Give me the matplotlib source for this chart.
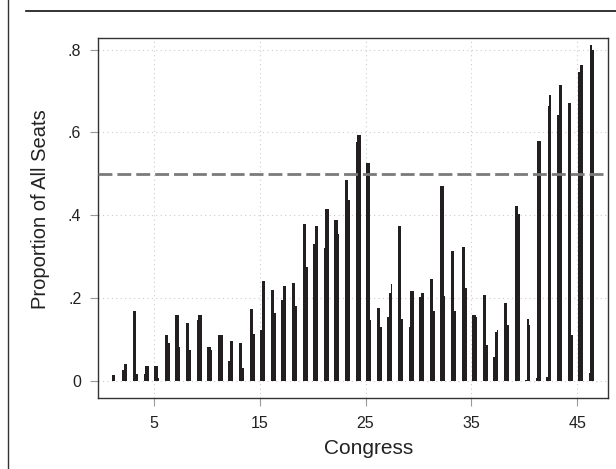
import matplotlib
matplotlib.use("Agg")
import matplotlib.pyplot as plt
from matplotlib.lines import Line2D
import numpy as np

plt.rcParams['font.family'] = ['Liberation Sans', 'DejaVu Sans']

congress = list(range(1, 47))
s1 = [0.015, 0.027, 0.169, 0.016, 0.036, 0.111, 0.159, 0.140, 0.147, 0.082,
      0.111, 0.049, 0.092, 0.174, 0.123, 0.220, 0.196, 0.237, 0.379, 0.331,
      0.321, 0.389, 0.486, 0.577, 0.527, 0.176, 0.155, 0.374, 0.130, 0.203,
      0.246, 0.471, 0.314, 0.324, 0.160, 0.208, 0.058, 0.188, 0.423, 0.003,
      0.008, 0.010, 0.643, 0.671, 0.746, 0.019]
s2 = [0.015, 0.041, 0.169, 0.036, 0.036, 0.111, 0.159, 0.140, 0.159, 0.082,
      0.111, 0.097, 0.092, 0.174, 0.241, 0.220, 0.229, 0.237, 0.379, 0.374,
      0.415, 0.389, 0.486, 0.594, 0.527, 0.176, 0.213, 0.374, 0.217, 0.213,
      0.246, 0.471, 0.314, 0.324, 0.160, 0.208, 0.118, 0.188, 0.423, 0.150,
      0.580, 0.664, 0.715, 0.671, 0.763, 0.812]
s3 = [0.000, 0.041, 0.016, 0.036, 0.008, 0.092, 0.082, 0.075, 0.159, 0.075,
      0.111, 0.097, 0.031, 0.113, 0.241, 0.164, 0.229, 0.181, 0.275, 0.374,
      0.415, 0.355, 0.437, 0.594, 0.147, 0.130, 0.234, 0.150, 0.217, 0.213,
      0.169, 0.206, 0.169, 0.225, 0.155, 0.087, 0.123, 0.135, 0.403, 0.135,
      0.580, 0.691, 0.715, 0.111, 0.763, 0.800]
xticks = [5, 15, 25, 35, 45]
yticks = [0, 0.2, 0.4, 0.6, 0.8]
ytick_labels = ["0", ".2", ".4", ".6", ".8"]
majority = 0.5

W, H = 616, 469
fig = plt.figure(figsize=(W / 100, H / 100), dpi=100)
ax = fig.add_axes([98 / W, 1 - 398 / H, 510 / W, 360 / H])

x = np.array(congress, dtype=float)
bar_color = '#231f20'
for off, s in zip([0.15, 0.30, 0.45], [s1, s2, s3]):
    ax.bar(x + off, s, width=0.18, color=bar_color, linewidth=0, zorder=3)

ax.axhline(majority, color='#7a7a7a', lw=2.0, dashes=(5, 1.8), zorder=4)

ax.set_xlim(-0.24, 47.88)
ax.set_ylim(-0.041, 0.828)
ax.set_xticks(xticks)
ax.set_yticks(yticks)
ax.set_yticklabels(ytick_labels)

ax.grid(True, color='#cccccc', linestyle=(0, (1, 3)), linewidth=0.8, zorder=0)
ax.tick_params(axis='both', direction='out', length=6, width=0.8, color='#999999',
               labelsize=11.5, labelcolor='#222222')
ax.tick_params(axis='x', pad=7)
ax.tick_params(axis='y', pad=6)
for sp in ax.spines.values():
    sp.set_color('#333333')
    sp.set_linewidth(1.0)

ax.set_xlabel('Congress', fontsize=15, color='#222222')
ax.xaxis.set_label_coords(0.53, -0.113)
ax.set_ylabel('Proportion of All Seats', fontsize=14.5, color='#222222')
ax.yaxis.set_label_coords(-0.094, 0.525)

# page frame lines
fig.add_artist(Line2D([26 / W, 1.0], [1 - 11 / H, 1 - 11 / H], color='#111111', lw=1.2,
                      transform=fig.transFigure))
fig.add_artist(Line2D([8 / W, 8 / W], [0, 1], color='#333333', lw=1.0,
                      transform=fig.transFigure))

fig.savefig('out.png', dpi=100)
